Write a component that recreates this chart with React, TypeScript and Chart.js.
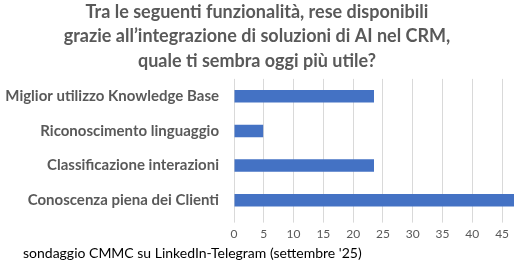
import React, { useEffect, useRef } from "react";
import { Chart, registerables } from "chart.js";

Chart.register(...registerables);

const titleLines = [
  "Tra le seguenti funzionalità, rese disponibili",
  "grazie all\u2019integrazione di soluzioni di AI nel CRM,",
  "quale ti sembra oggi più utile?",
];
const categories = [
  "Miglior utilizzo Knowledge Base",
  "Riconoscimento linguaggio",
  "Classificazione interazioni",
  "Conoscenza piena dei Clienti",
];
const values = [23.5, 4.9, 23.5, 47.1];
const tickValues = [0, 5, 10, 15, 20, 25, 30, 35, 40, 45];
const footerText = "sondaggio CMMC su LinkedIn-Telegram (settembre '25)";
const axisMax = 47;

const FONT = "Lato, 'Open Sans', sans-serif";

export default function App() {
  const ref = useRef<HTMLCanvasElement | null>(null);

  useEffect(() => {
    document.body.style.margin = "0";
    const footerPlugin = {
      id: "footerText",
      afterDraw(chart: any) {
        const ctx = chart.ctx;
        ctx.save();
        ctx.font = `14px ${FONT}`;
        ctx.fillStyle = "#000000";
        ctx.textAlign = "left";
        ctx.textBaseline = "middle";
        ctx.fillText(footerText, 23, 253);
        ctx.restore();
      },
    };
    const chart = new Chart(ref.current as HTMLCanvasElement, {
      type: "bar",
      data: {
        labels: categories,
        datasets: [
          {
            data: values,
            backgroundColor: "#4472C4",
            categoryPercentage: 1,
            barPercentage: 0.36,
          },
        ],
      },
      plugins: [footerPlugin],
      options: {
        indexAxis: "y",
        animation: false,
        responsive: true,
        maintainAspectRatio: false,
        layout: { padding: { top: 0, right: 6, bottom: 24, left: 0 } },
        plugins: {
          legend: { display: false },
          tooltip: { enabled: false },
          title: {
            display: true,
            text: titleLines,
            color: "#595959",
            font: { family: FONT, size: 18, weight: "bold", lineHeight: 1.35 },
            padding: { top: 0, bottom: 6 },
          },
        },
        scales: {
          x: {
            min: 0,
            max: axisMax,
            ticks: {
              color: "#595959",
              font: { family: FONT, size: 12 },
              padding: 4,
            },
            afterBuildTicks(scale: any) {
              scale.ticks = tickValues.map((v) => ({ value: v }));
            },
            grid: { color: "#d9d9d9", tickLength: 5, drawTicks: true },
            border: { display: false },
          },
          y: {
            ticks: {
              color: "#595959",
              font: { family: FONT, size: 15, weight: "bold" },
              padding: 15,
            },
            grid: { display: false, drawTicks: false },
            border: { display: false },
            afterFit(scale: any) {
              scale.width = 234;
            },
          },
        },
      },
    } as any);
    return () => chart.destroy();
  }, []);

  return (
    <div style={{ width: 520, height: 269, position: "relative" }}>
      <canvas ref={ref} />
    </div>
  );
}
